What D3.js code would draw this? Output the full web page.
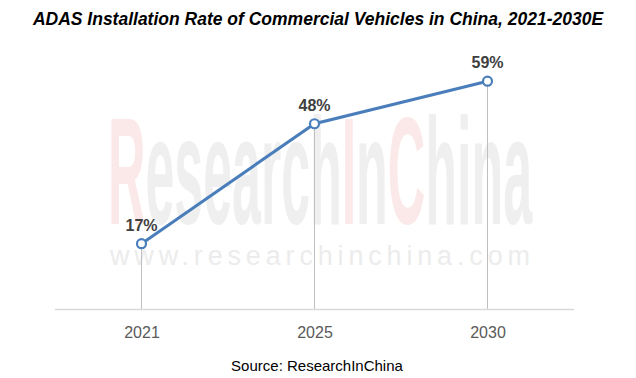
<!DOCTYPE html>
<html><head><meta charset="utf-8">
<script src="https://cdn.jsdelivr.net/npm/d3@7"></script>
<style>body{margin:0;background:#fff}svg{display:block}</style>
</head><body>
<script>
const years = ["2021", "2025", "2030"];
const rates = [17, 48, 59];
const title = "ADAS Installation Rate of Commercial Vehicles in China, 2021-2030E";
const source = "Source: ResearchInChina";

const W = 636, H = 378;
const svg = d3.select("body").append("svg").attr("width", W).attr("height", H);

const x = d3.scalePoint().domain(years).range([55, 574]).padding(0.5);
const y = d3.scaleLinear().domain([0, 70]).range([309.5, 38.6]);

// watermark
const wm = svg.append("text").attr("x", 108).attr("y", 224)
  .attr("font-family", "Liberation Sans, Arial").attr("font-weight", "bold")
  .attr("font-size", 152).attr("textLength", 424).attr("lengthAdjust", "spacingAndGlyphs");
[["R", "#fbe9e9"], ["esearch", "#efefef"], ["I", "#fbe9e9"], ["n", "#efefef"], ["C", "#fbe9e9"], ["hina", "#efefef"]]
  .forEach(([t, c]) => wm.append("tspan").attr("fill", c).text(t));
svg.append("text").attr("x", 110).attr("y", 265)
  .attr("font-family", "Liberation Sans, Arial").attr("font-size", 27)
  .attr("fill", "#ececec").attr("textLength", 420).attr("lengthAdjust", "spacing")
  .text("www.researchinchina.com");

// title
svg.append("text").attr("x", 318).attr("y", 25).attr("text-anchor", "middle")
  .attr("font-family", "Liberation Sans, Arial").attr("font-weight", "bold").attr("font-style", "italic")
  .attr("font-size", 17.5).attr("fill", "#000").text(title);

// drop lines
svg.selectAll("line.drop").data(years).join("line").attr("class", "drop")
  .attr("x1", d => x(d)).attr("x2", d => x(d))
  .attr("y1", (d, i) => y(rates[i])).attr("y2", y(0))
  .attr("stroke", "#bfbfbf").attr("stroke-width", 1);

// baseline axis
const axis = svg.append("g").attr("transform", `translate(0,${y(0)})`)
  .call(d3.axisBottom(x).tickSize(0).tickPadding(17));
axis.select(".domain").attr("d", "M55,0H574").attr("stroke", "#d9d9d9").attr("stroke-width", 1.5);
axis.selectAll("text").attr("font-family", "Liberation Sans, Arial").attr("font-size", 16).attr("fill", "#595959");

// line
const pts = years.map((d, i) => [x(d), y(rates[i])]);
svg.append("path").attr("d", d3.line()(pts)).attr("fill", "none")
  .attr("stroke", "#4a7ebb").attr("stroke-width", 3);
svg.selectAll("circle").data(pts).join("circle")
  .attr("cx", d => d[0]).attr("cy", d => d[1]).attr("r", 4.5)
  .attr("fill", "#fff").attr("stroke", "#4a7ebb").attr("stroke-width", 2.2);

// value labels
svg.selectAll("text.val").data(years).join("text").attr("class", "val")
  .attr("x", d => x(d)).attr("y", (d, i) => y(rates[i]) - 13).attr("text-anchor", "middle")
  .attr("font-family", "Liberation Sans, Arial").attr("font-weight", "bold").attr("font-size", 16)
  .attr("fill", "#404040").text((d, i) => rates[i] + "%");

// source
svg.append("text").attr("x", 317).attr("y", 371).attr("text-anchor", "middle")
  .attr("font-family", "Liberation Sans, Arial").attr("font-size", 15).attr("fill", "#000").text(source);
</script>
</body></html>
